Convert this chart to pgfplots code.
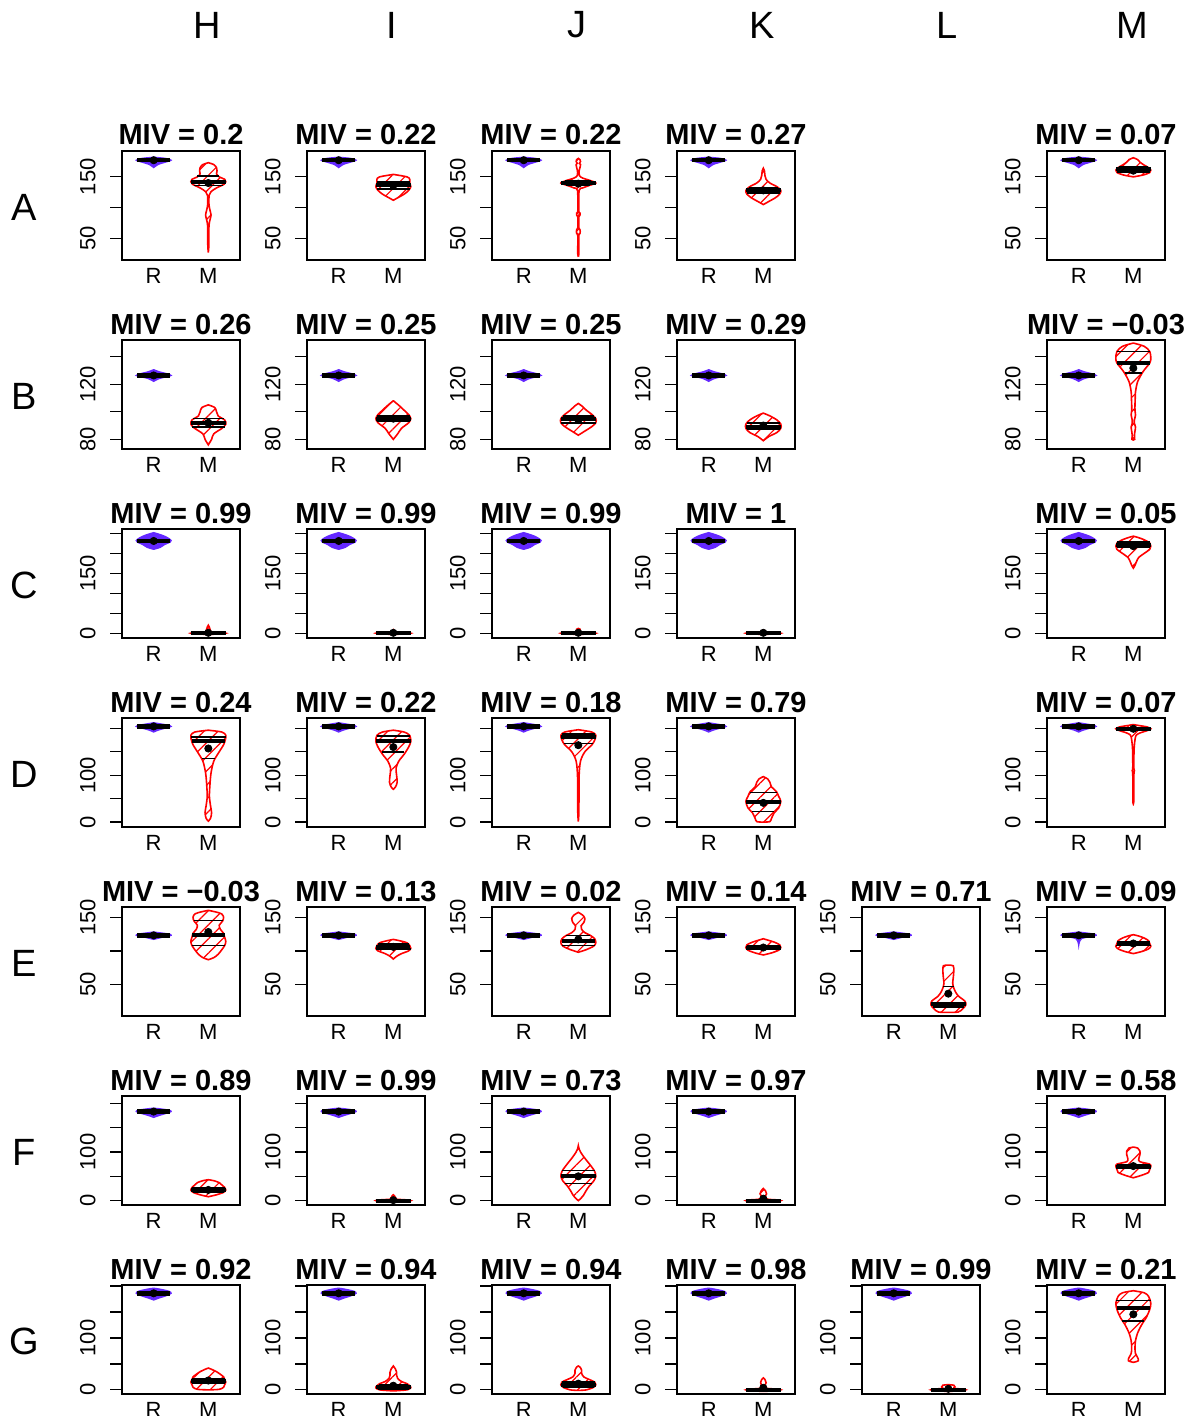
\documentclass[border=0pt]{standalone}
\usepackage{fontspec}
\setmainfont{Liberation Sans}
\usepackage{pgfplots}
\pgfplotsset{compat=1.18}
\usetikzlibrary{patterns.meta}
\definecolor{rviol}{RGB}{100,40,255}

\newcommand\vio[3]{%
  \edef\vlist{#3}%
  \gdef\vl{}\gdef\vr{}%
  \foreach \yy/\ww in \vlist {%
    \pgfmathsetmacro\xa{#1-\ww}\pgfmathsetmacro\xb{#1+\ww}%
    \xdef\vl{\vl(\xa,\yy)}\xdef\vr{(\xb,\yy)\vr}}%
  \edef\tmp{\noexpand\addplot[\unexpanded{#2}] coordinates {\vl\vr} -- cycle;}\tmp}
\newcommand\qline[4]{\pgfmathsetmacro\xa{#1-#3}\pgfmathsetmacro\xb{#1+#3}%
  \edef\tmp{\noexpand\addplot[black,line width=#4] coordinates {(\xa,#2) (\xb,#2)};}\tmp}
\newcommand\meanpt[2]{\addplot[only marks, mark=*, mark size=1.8pt, black] coordinates {(#1,#2)};}
% R violin: profile, median, mean
\newcommand\Rv[3]{\vio{1}{Rsty}{#1}\qline{1}{#2}{0.3}{2.2pt}\meanpt{1}{#3}}
% M violin: profile, q1, hw, med, hw, q3, hw, mean
\newcommand\Mv[8]{\vio{2}{Msty}{#1}\qline{2}{#2}{#3}{0.8pt}\qline{2}{#6}{#7}{0.8pt}\qline{2}{#4}{#5}{2pt}\meanpt{2}{#8}}

\def\RA{165/0,170/0.08,174/0.22,177/0.32,180/0.22,182/0}
\def\RB{122/0,124/0.1,125.5/0.25,126.3/0.32,127.5/0.25,129/0.1,130.5/0}
\def\RC{210/0,215/0.12,222/0.2,228/0.3,232/0.32,237/0.28,243/0.2,248/0.1,252/0}
\def\RD{192/0,196/0.08,200/0.2,204/0.32,207/0.25,210/0.1,212/0}
\def\RE{117/0,119/0.1,121/0.2,123/0.32,125/0.28,127/0.1,128/0}
\def\RF{171/0,175/0.1,179/0.22,183/0.32,186/0.28,189/0.1,190/0}
\def\RG{173/0,177/0.1,181/0.22,186/0.32,190/0.28,194/0.12,196/0}

\pgfplotsset{
 Rsty/.style={draw=rviol, fill=rviol, line width=0.6pt, smooth, tension=0.5},
 Msty/.style={draw=red, line width=0.8pt, pattern={Lines[angle=45,distance=5pt,line width=0.6pt]}, pattern color=red, smooth, tension=0.5},
 panel/.style={scale only axis, width=59pt, height=54.5pt, anchor=south west,
  xmin=0.42, xmax=2.58, xtick={1,2}, xticklabels={R,M}, xtick style={draw=none},
  tick align=outside, ytick pos=left, xtick pos=bottom, major tick length=6pt,
  axis line style={line width=0.6pt}, ytick style={line width=0.6pt, black},
  yticklabel style={rotate=90, anchor=south, inner sep=0pt, font=\fontsize{11}{11}\selectfont},
  xticklabel style={anchor=north, inner sep=0pt, font=\fontsize{11}{11}\selectfont},
  yticklabel shift=7pt, xticklabel shift=-1.8pt,
  title style={font=\bfseries\fontsize{14.5}{14.5}\selectfont, anchor=base, inner sep=0pt, yshift=-3pt},
  /pgf/number format/assume math mode=true},
 rowA/.style={ymin=15,ymax=192,ytick={50,100,150},yticklabels={50,,150}},
 rowB/.style={ymin=73,ymax=152,ytick={80,100,120,140},yticklabels={80,,120,}},
 rowC/.style={ymin=-12,ymax=261,ytick={0,50,100,150,200,250},yticklabels={0,,,150,,}},
 rowD/.style={ymin=-10.5,ymax=222,ytick={0,50,100,150,200},yticklabels={0,,100,,}},
 rowE/.style={ymin=3.6,ymax=165,ytick={50,100,150},yticklabels={50,,150}},
 rowF/.style={ymin=-9,ymax=215,ytick={0,50,100,150,200},yticklabels={0,,100,,}},
 rowG/.style={ymin=-8,ymax=202,ytick={0,50,100,150,200},yticklabels={0,,100,,}},
}

\begin{document}
\begin{tikzpicture}
\path[use as bounding box] (0,0) rectangle (594pt,-708pt);
\begin{scope}[every node/.style={font=\fontsize{19}{19}\selectfont}]
\node at (103.5pt,-12.5pt) {H};
\node at (196pt,-12.5pt) {I};
\node at (288.5pt,-12.5pt) {J};
\node at (381pt,-12.5pt) {K};
\node at (473.5pt,-12.5pt) {L};
\node at (566pt,-12.5pt) {M};
\node at (12pt,-103.5pt) {A};
\node at (12pt,-198pt) {B};
\node at (12pt,-292.5pt) {C};
\node at (12pt,-387pt) {D};
\node at (12pt,-481.5pt) {E};
\node at (12pt,-576pt) {F};
\node at (12pt,-670.5pt) {G};
\end{scope}

% ---------------- Row A
\begin{axis}[panel,rowA,at={(61pt,-130pt)},title={MIV = 0.2}]
\Rv{\RA}{177}{177}
\Mv{27/0,40/0.01,70/0.012,80/0.03,88/0.05,96/0.03,105/0.012,120/0.015,126/0.05,132/0.15,138/0.29,142/0.32,146/0.3,150/0.2,155/0.15,160/0.16,165/0.15,170/0.1,173/0}{136}{0.27}{142}{0.32}{151}{0.2}{140}
\end{axis}
\begin{axis}[panel,rowA,at={(153.5pt,-130pt)},title={MIV = 0.22}]
\Rv{\RA}{177}{177}
\Mv{112/0,116/0.08,122/0.2,128/0.28,134/0.32,140/0.3,146/0.3,150/0.25,154/0}{130}{0.3}{136}{0.32}{142}{0.3}{136}
\end{axis}
\begin{axis}[panel,rowA,at={(246pt,-130pt)},title={MIV = 0.22}]
\Rv{\RA}{177}{177}
\Mv{22/0,25/0.01,55/0.01,58/0.03,61/0.035,64/0.03,67/0.01,85/0.01,88/0.03,91/0.03,94/0.01,128/0.015,132/0.08,136/0.2,140/0.32,144/0.22,148/0.08,152/0.02,160/0.015,165/0.03,170/0.04,172/0.02,175/0.04,178/0.03,180/0}{137}{0.22}{140}{0.32}{143}{0.24}{139}
\end{axis}
\begin{axis}[panel,rowA,at={(338.5pt,-130pt)},title={MIV = 0.27}]
\Rv{\RA}{177}{177}
\Mv{105/0,110/0.1,116/0.22,122/0.3,128/0.32,134/0.25,140/0.12,146/0.05,152/0.03,160/0.02,164/0}{124}{0.3}{128}{0.32}{133}{0.27}{128}
\end{axis}
\begin{axis}[panel,rowA,at={(523.5pt,-130pt)},title={MIV = 0.07}]
\Rv{\RA}{177}{177}
\Mv{150/0,153/0.18,157/0.3,161/0.32,165/0.28,169/0.2,174/0.12,178/0.08,181/0}{158}{0.3}{162}{0.32}{166}{0.27}{160}
\end{axis}

% ---------------- Row B
\begin{axis}[panel,rowB,at={(61pt,-224.5pt)},title={MIV = 0.26}]
\Rv{\RB}{126.3}{126.3}
\Mv{76/0,80/0.06,84/0.1,88/0.25,91/0.32,94/0.3,97/0.18,100/0.15,103/0.12,105/0}{89}{0.3}{92}{0.32}{95}{0.28}{92}
\end{axis}
\begin{axis}[panel,rowB,at={(153.5pt,-224.5pt)},title={MIV = 0.25}]
\Rv{\RB}{126.3}{126.3}
\Mv{80/0,84/0.08,88/0.15,92/0.28,95/0.32,98/0.28,101/0.2,104/0.12,108/0}{93}{0.3}{95}{0.32}{97}{0.3}{95}
\end{axis}
\begin{axis}[panel,rowB,at={(246pt,-224.5pt)},title={MIV = 0.25}]
\Rv{\RB}{126.3}{126.3}
\Mv{83/0,86/0.12,89/0.24,92/0.32,95/0.32,98/0.25,101/0.15,104/0.07,106/0}{92}{0.32}{95}{0.32}{97}{0.28}{94}
\end{axis}
\begin{axis}[panel,rowB,at={(338.5pt,-224.5pt)},title={MIV = 0.29}]
\Rv{\RB}{126.3}{126.3}
\Mv{79/0,82/0.1,85/0.25,88/0.32,91/0.32,94/0.25,97/0.12,99/0}{87}{0.3}{89}{0.32}{92}{0.3}{90}
\end{axis}
\begin{axis}[panel,rowB,at={(523.5pt,-224.5pt)},title={MIV = −0.03}]
\Rv{\RB}{126.3}{126.3}
\Mv{79.5/0,80/0.025,83/0.02,86/0.03,89/0.04,91.5/0.02,94/0.02,97.7/0.04,101/0.03,105/0.03,110/0.035,114.6/0.04,121.9/0.08,129.2/0.18,135.3/0.3,138.9/0.32,143.7/0.3,147.4/0.2,149.8/0}{128}{0.16}{135.3}{0.3}{143.7}{0.3}{131.6}
\end{axis}

% ---------------- Row C
\begin{axis}[panel,rowC,at={(61pt,-319pt)},title={MIV = 0.99}]
\Rv{\RC}{231}{231}
\Mv{-3/0,-1.5/0.25,0/0.32,1.5/0.25,3/0.06,6/0.04,10/0.03,15/0.02,20/0}{0}{0.3}{0}{0.32}{0}{0.3}{1}
\end{axis}
\begin{axis}[panel,rowC,at={(153.5pt,-319pt)},title={MIV = 0.99}]
\Rv{\RC}{231}{231}
\Mv{-3/0,-1.5/0.25,0/0.32,1.5/0.25,3/0.04,6/0.02,9/0}{0}{0.3}{0}{0.32}{0}{0.3}{1}
\end{axis}
\begin{axis}[panel,rowC,at={(246pt,-319pt)},title={MIV = 0.99}]
\Rv{\RC}{231}{231}
\Mv{-3/0,-1.5/0.25,0/0.32,1.5/0.25,3/0.04,7/0.03,10/0.03,12/0}{0}{0.3}{0}{0.32}{0}{0.3}{1}
\end{axis}
\begin{axis}[panel,rowC,at={(338.5pt,-319pt)},title={MIV = 1}]
\Rv{\RC}{231}{231}
\Mv{-3/0,-1.5/0.25,0/0.32,1.5/0.25,3/0.04,6/0.03,8/0}{0}{0.3}{0}{0.32}{0}{0.3}{1}
\end{axis}
\begin{axis}[panel,rowC,at={(523.5pt,-319pt)},title={MIV = 0.05}]
\Rv{\RC}{231}{231}
\Mv{163/0,170/0.03,180/0.06,190/0.1,200/0.2,210/0.3,218/0.32,226/0.3,234/0.2,240/0.08,243/0}{215}{0.3}{222}{0.32}{228}{0.3}{218}
\end{axis}

% ---------------- Row D
\begin{axis}[panel,rowD,at={(61pt,-413.5pt)},title={MIV = 0.24}]
\Rv{\RD}{204}{204}
\Mv{2/0,8/0.04,20/0.06,35/0.04,55/0.02,80/0.03,105/0.05,130/0.1,150/0.2,165/0.28,175/0.31,185/0.32,192/0.25,196/0}{136}{0.12}{172}{0.3}{181}{0.32}{157}
\end{axis}
\begin{axis}[panel,rowD,at={(153.5pt,-413.5pt)},title={MIV = 0.22}]
\Rv{\RD}{204}{204}
\Mv{70/0,75/0.04,85/0.07,100/0.06,115/0.05,130/0.1,145/0.2,160/0.28,172/0.32,185/0.3,192/0.2,196/0}{150}{0.2}{174}{0.32}{183}{0.3}{160}
\end{axis}
\begin{axis}[panel,rowD,at={(246pt,-413.5pt)},title={MIV = 0.18}]
\Rv{\RD}{204}{204}
\Mv{1/0,20/0.01,60/0.012,100/0.015,130/0.04,150/0.12,165/0.25,175/0.3,185/0.32,192/0.25,197/0}{168}{0.27}{181}{0.32}{188}{0.3}{164}
\end{axis}
\begin{axis}[panel,rowD,at={(338.5pt,-413.5pt)},title={MIV = 0.79}]
\Rv{\RD}{204}{204}
\Mv{0/0,1/0.12,8/0.15,20/0.2,30/0.28,44/0.32,55/0.28,65/0.24,75/0.15,85/0.12,92/0.08,97/0}{23}{0.2}{43}{0.32}{63}{0.25}{41}
\end{axis}
\begin{axis}[panel,rowD,at={(523.5pt,-413.5pt)},title={MIV = 0.07}]
\Rv{\RD}{204}{204}
\Mv{41/0,45/0.008,100/0.01,110/0.02,115/0.01,150/0.012,165/0.02,175/0.03,185/0.05,190/0.12,195/0.25,199/0.32,203/0.25,206/0.1,208/0}{196}{0.27}{199}{0.32}{201}{0.3}{199}
\end{axis}

% ---------------- Row E
\begin{axis}[panel,rowE,at={(61pt,-508pt)},title={MIV = −0.03}]
\Rv{\RE}{123}{123}
\Mv{87/0,90/0.1,95/0.18,101/0.24,108/0.3,114/0.32,120/0.3,126/0.28,132/0.22,138/0.2,144/0.26,150/0.28,155/0.24,158/0.12,160/0}{108}{0.3}{123}{0.3}{145}{0.27}{128}
\end{axis}
\begin{axis}[panel,rowE,at={(153.5pt,-508pt)},title={MIV = 0.13}]
\Rv{\RE}{123}{123}
\Mv{88/0,92/0.06,96/0.15,100/0.28,104/0.32,108/0.3,112/0.25,115/0.12,117/0}{103}{0.32}{106}{0.31}{110}{0.28}{106}
\end{axis}
\begin{axis}[panel,rowE,at={(246pt,-508pt)},title={MIV = 0.02}]
\Rv{\RE}{123}{123}
\Mv{98/0,102/0.15,107/0.28,112/0.32,118/0.3,123/0.22,127/0.12,132/0.06,137/0.05,142/0.1,148/0.12,153/0.08,157/0}{108}{0.3}{115}{0.3}{123}{0.22}{117}
\end{axis}
\begin{axis}[panel,rowE,at={(338.5pt,-508pt)},title={MIV = 0.14}]
\Rv{\RE}{123}{123}
\Mv{94/0,97/0.15,101/0.28,105/0.32,109/0.3,113/0.2,116/0.08,118/0}{102}{0.3}{105}{0.32}{108}{0.3}{105}
\end{axis}
\begin{axis}[panel,rowE,at={(431pt,-508pt)},title={MIV = 0.71}]
\Rv{\RE}{123}{123}
\Mv{9/0,9.5/0.18,14/0.26,20/0.32,26/0.3,32/0.2,38/0.14,45/0.1,52/0.08,60/0.09,70/0.1,78/0.09,79/0}{17}{0.28}{22}{0.32}{47.5}{0.1}{36.7}
\end{axis}
\begin{axis}[panel,rowE,at={(523.5pt,-508pt)},title={MIV = 0.09}]
\Rv{108/0,112/0.01,118/0.05,121/0.2,123/0.32,125/0.28,127/0.1,128/0}{123}{123}
\Mv{96/0,99/0.15,103/0.28,107/0.32,111/0.3,115/0.28,119/0.2,122/0.1,124/0}{108}{0.32}{111}{0.3}{114}{0.28}{111}
\end{axis}

% ---------------- Row F
\begin{axis}[panel,rowF,at={(61pt,-602.5pt)},title={MIV = 0.89}]
\Rv{\RF}{183}{183}
\Mv{8/0,12/0.15,17/0.28,22/0.32,27/0.3,32/0.25,37/0.2,41/0.1,43/0}{17}{0.28}{21}{0.32}{27}{0.3}{22}
\end{axis}
\begin{axis}[panel,rowF,at={(153.5pt,-602.5pt)},title={MIV = 0.99}]
\Rv{\RF}{183}{183}
\Mv{-3/0,-1.5/0.25,0/0.32,1.5/0.25,3/0.05,6/0.04,10/0.02,12/0}{0}{0.3}{0}{0.32}{0}{0.3}{1}
\end{axis}
\begin{axis}[panel,rowF,at={(246pt,-602.5pt)},title={MIV = 0.73}]
\Rv{\RF}{183}{183}
\Mv{0/0,5/0.05,12/0.1,20/0.14,30/0.2,40/0.28,50/0.32,60/0.3,70/0.24,80/0.17,90/0.1,100/0.04,106/0.015,113/0}{35}{0.25}{50}{0.32}{62}{0.3}{50}
\end{axis}
\begin{axis}[panel,rowF,at={(338.5pt,-602.5pt)},title={MIV = 0.97}]
\Rv{\RF}{183}{183}
\Mv{-3/0,-1.5/0.25,0/0.32,1.5/0.25,3/0.08,8/0.03,14/0.06,20/0.04,25/0}{0}{0.3}{0}{0.32}{0}{0.3}{4}
\end{axis}
\begin{axis}[panel,rowF,at={(523.5pt,-602.5pt)},title={MIV = 0.58}]
\Rv{\RF}{183}{183}
\Mv{47/0,52/0.15,58/0.28,64/0.3,70/0.32,75/0.3,80/0.12,86/0.1,94/0.12,102/0.12,108/0.08,110/0}{66}{0.3}{70}{0.32}{74}{0.3}{71}
\end{axis}

% ---------------- Row G
\begin{axis}[panel,rowG,at={(61pt,-697pt)},title={MIV = 0.92}]
\Rv{\RG}{186}{186}
\Mv{0/0,1/0.2,5/0.28,10/0.3,15/0.32,20/0.3,25/0.28,30/0.22,35/0.15,40/0.05,42/0}{12}{0.3}{17}{0.32}{22}{0.3}{18}
\end{axis}
\begin{axis}[panel,rowG,at={(153.5pt,-697pt)},title={MIV = 0.94}]
\Rv{\RG}{186}{186}
\Mv{-2/0,0/0.25,4/0.32,8/0.3,12/0.25,16/0.15,22/0.08,28/0.06,34/0.06,40/0.04,46/0}{2}{0.28}{6}{0.32}{10}{0.26}{8}
\end{axis}
\begin{axis}[panel,rowG,at={(246pt,-697pt)},title={MIV = 0.94}]
\Rv{\RG}{186}{186}
\Mv{-1/0,0/0.15,5/0.28,10/0.32,15/0.3,20/0.2,25/0.1,32/0.06,38/0.06,44/0.03,46/0}{6}{0.28}{10}{0.32}{15}{0.3}{12}
\end{axis}
\begin{axis}[panel,rowG,at={(338.5pt,-697pt)},title={MIV = 0.98}]
\Rv{\RG}{186}{186}
\Mv{-3/0,-1.5/0.25,0/0.32,1.5/0.25,3/0.06,8/0.03,14/0.05,20/0.03,23/0}{0}{0.3}{0}{0.32}{0}{0.3}{4}
\end{axis}
\begin{axis}[panel,rowG,at={(431pt,-697pt)},title={MIV = 0.99}]
\Rv{\RG}{186}{186}
\Mv{-3/0,-1.5/0.25,0/0.32,1.5/0.25,3/0.1,6/0.12,9/0.1,10/0}{0}{0.3}{0}{0.32}{0}{0.3}{2}
\end{axis}
\begin{axis}[panel,rowG,at={(523.5pt,-697pt)},title={MIV = 0.21}]
\Rv{\RG}{186}{186}
\Mv{53/0,56/0.09,62/0.08,70/0.04,80/0.03,95/0.04,110/0.08,125/0.15,140/0.24,155/0.3,167/0.32,180/0.28,187/0.2,191/0}{133}{0.2}{157}{0.3}{172}{0.32}{145.6}
\end{axis}
\end{tikzpicture}
\end{document}
